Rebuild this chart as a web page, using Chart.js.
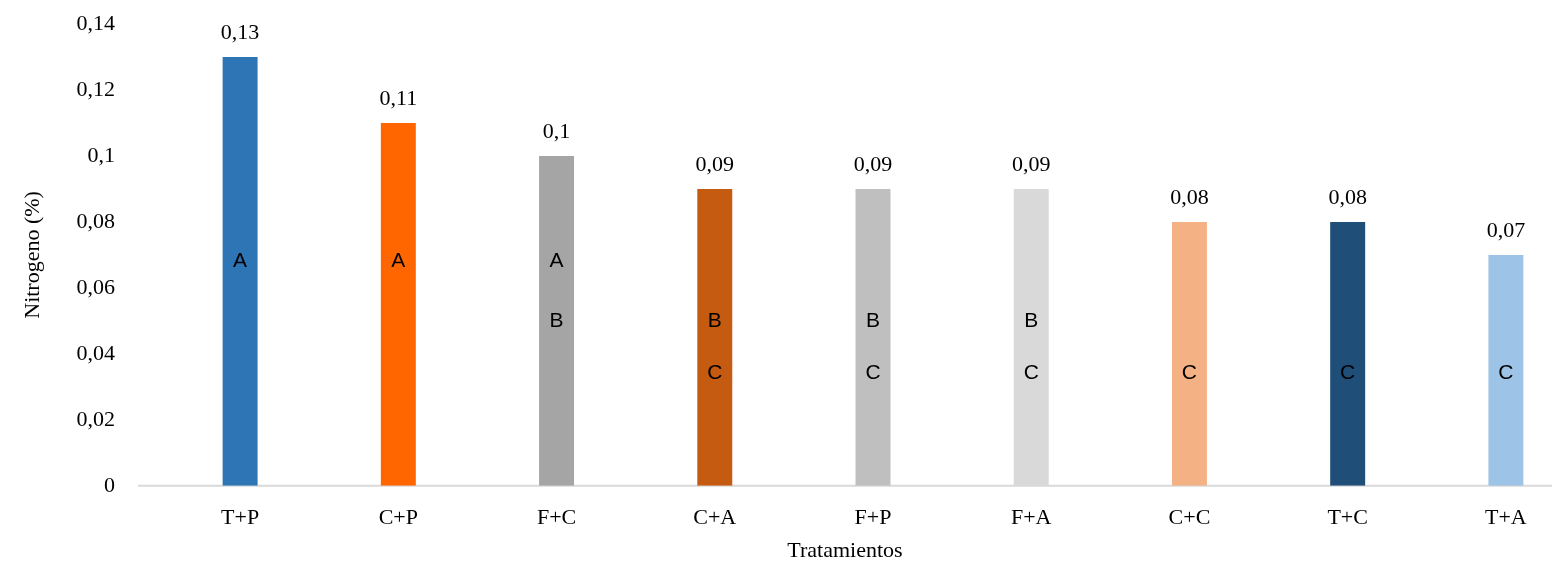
<!DOCTYPE html>
<html>
<head>
<meta charset="utf-8">
<script src="https://cdn.jsdelivr.net/npm/chart.js@4.4.0/dist/chart.umd.min.js"></script>
<style>
  body { margin: 0; background: #fff; overflow: hidden; }
  #wrap { width: 1552px; height: 571px; overflow: hidden; }
</style>
</head>
<body>
<!-- the original figure is cut off on the right, so the canvas runs past the frame -->
<div id="wrap"><canvas id="chart" width="1585" height="571"></canvas></div>
<script>
// data
const treatments = ['T+P', 'C+P', 'F+C', 'C+A', 'F+P', 'F+A', 'C+C', 'T+C', 'T+A'];
const nitrogen = [0.13, 0.11, 0.1, 0.09, 0.09, 0.09, 0.08, 0.08, 0.07];
const groups = ['A', 'A', 'AB', 'BC', 'BC', 'BC', 'C', 'C', 'C'];
const barColors = ['#2E75B6', '#FF6600', '#A5A5A5', '#C55A11', '#BFBFBF', '#D9D9D9', '#F4B183', '#1F4E79', '#9DC3E6'];

// where each group letter sits inside the bar (in axis units)
const letterLevel = { A: 0.068, B: 0.05, C: 0.034 };

const fmt = (v) => Number(v.toFixed(2)).toString().replace('.', ',');

// horizontal axis line, starts a bit left of the first category
const axisLine = {
  id: 'axisLine',
  beforeDatasetsDraw(chart) {
    const ctx = chart.ctx;
    const y0 = chart.scales.y.getPixelForValue(0);
    ctx.save();
    ctx.strokeStyle = '#D9D9D9';
    ctx.lineWidth = 2;
    ctx.beginPath();
    ctx.moveTo(chart.chartArea.left - 23, y0);
    ctx.lineTo(chart.width, y0);
    ctx.stroke();
    ctx.restore();
  },
};

const labelPlugin = {
  id: 'labels',
  afterDatasetsDraw(chart) {
    const ctx = chart.ctx;
    const meta = chart.getDatasetMeta(0);
    const y = chart.scales.y;
    ctx.save();
    ctx.textAlign = 'center';
    meta.data.forEach((bar, i) => {
      // value above bar
      ctx.fillStyle = '#000';
      ctx.font = '22px "Liberation Serif", serif';
      ctx.textBaseline = 'alphabetic';
      ctx.fillText(fmt(nitrogen[i]), bar.x, bar.y - 18);
      // significance letters
      ctx.font = '21px "Liberation Sans", Arial, sans-serif';
      ctx.textBaseline = 'middle';
      groups[i].split('').forEach((l) => {
        ctx.fillText(l, bar.x, y.getPixelForValue(letterLevel[l]));
      });
    });
    // x title, centred on the visible axis line
    const x = chart.scales.x;
    const visibleRight = chart.canvas.parentNode.clientWidth;
    ctx.font = '22px "Liberation Serif", serif';
    ctx.textBaseline = 'middle';
    ctx.fillText('Tratamientos', (chart.chartArea.left - 23 + visibleRight) / 2, x.bottom - 13);
    ctx.restore();
  },
};

new Chart(document.getElementById('chart'), {
  type: 'bar',
  data: {
    labels: treatments,
    datasets: [
      {
        data: nitrogen,
        backgroundColor: barColors,
        borderWidth: 0,
        barPercentage: 0.221,
        categoryPercentage: 1,
      },
    ],
  },
  options: {
    responsive: false,
    animation: false,
    layout: { padding: { top: 0, right: 0, left: 20, bottom: 7 } },
    plugins: {
      legend: { display: false },
      tooltip: { enabled: false },
    },
    scales: {
      x: {
        grid: { display: false, drawTicks: false },
        border: { display: false },
        ticks: {
          color: '#000',
          padding: 21,
          font: { family: '"Liberation Serif", serif', size: 22, lineHeight: 1 },
        },
        // space is kept here, the text itself is drawn by the plugin
        title: {
          display: true,
          text: 'Tratamientos',
          color: 'rgba(0,0,0,0)',
          padding: { top: -10, bottom: 0 },
          font: { family: '"Liberation Serif", serif', size: 22, lineHeight: 1.1 },
        },
      },
      y: {
        min: 0,
        max: 0.14,
        grid: { display: false, drawTicks: false },
        border: { display: false },
        // fixed axis box so the first category sits where the original has it
        afterFit: (s) => {
          s.width = 141;
          s.paddingTop = 24;
          s.paddingBottom = 11;
        },
        ticks: {
          stepSize: 0.02,
          color: '#000',
          padding: 46,
          font: { family: '"Liberation Serif", serif', size: 22, lineHeight: 1 },
          callback: (v) => fmt(v),
        },
        title: {
          display: true,
          text: 'Nitrogeno (%)',
          color: '#000',
          padding: { top: 0, bottom: 12 },
          font: { family: '"Liberation Serif", serif', size: 22 },
        },
      },
    },
  },
  plugins: [axisLine, labelPlugin],
});
</script>
</body>
</html>
